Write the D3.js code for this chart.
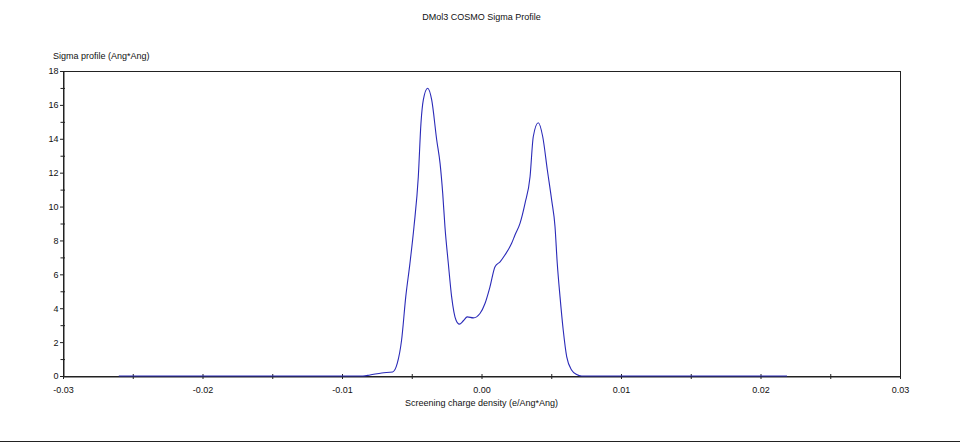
<!DOCTYPE html>
<meta charset="utf-8">
<head>
    <script src="https://d3js.org/d3.v7.min.js"></script>
    <title>DMol3 COSMO Sigma Profile</title>
</head>
<body>
    <div id="sigma_viz"></div>
</body>
<style>
    body {
        margin: 0;
        background: #fff;
    }
    text {
        font-family: "Liberation Sans", Arial, sans-serif;
        font-size: 9px;
        fill: #111;
    }
</style>
<script>
    // screening charge density (e/Ang*Ang)
    var sigma = [-0.0260, -0.0150, -0.0085, -0.00799, -0.00715, -0.00637, -0.00604, -0.00573, -0.00543,
        -0.00513, -0.00484, -0.00453, -0.00434, -0.00417, -0.00386, -0.00357, -0.00321, -0.00297,
        -0.00278, -0.00262, -0.00238, -0.00214, -0.00183, -0.00159, -0.00130, -0.00102, -0.00059,
        -0.00011, 0.00025, 0.00061, 0.00097, 0.00133, 0.00168, 0.00216, 0.00240, 0.00276, 0.00312,
        0.00348, 0.00371, 0.00407, 0.00439, 0.00472, 0.00503, 0.00527, 0.00543, 0.00563, 0.00586,
        0.00611, 0.00647, 0.00682, 0.00718, 0.0150, 0.0219];

    // sigma profile (Ang*Ang)
    var profile = [0, 0, 0, 0.06, 0.18, 0.24, 0.74, 2.11, 4.67,
        6.65, 8.81, 11.76, 14.91, 16.29, 16.98, 16.29, 13.93, 12.55,
        10.78, 8.81, 6.65, 4.67, 3.30, 3.06, 3.26, 3.49, 3.43,
        3.69, 4.28, 5.27, 6.45, 6.74, 7.14, 7.83, 8.32, 9.01, 10.19,
        11.76, 14.12, 14.95, 14.12, 12.16, 10.38, 8.81, 6.65, 4.67, 2.70,
        1.13, 0.34, 0.09, 0, 0, 0];

    var xTicks = [-0.03, -0.025, -0.02, -0.015, -0.01, -0.005, 0, 0.005, 0.01, 0.015, 0.02, 0.025, 0.03];
    var xLabels = ["-0.03", "", "-0.02", "", "-0.01", "", "0.00", "", "0.01", "", "0.02", "", "0.03"];
    var yTicks = d3.range(0, 19, 1);

    var chartTitle = "DMol3 COSMO Sigma Profile";
    var xTitle = "Screening charge density (e/Ang*Ang)";
    var yTitle = "Sigma profile (Ang*Ang)";

    var W = 960, H = 442;
    var margin = { top: 71, right: 60, bottom: 66, left: 63 },
        width = W - margin.left - margin.right,
        height = H - margin.top - margin.bottom;

    var root = d3.select("#sigma_viz")
        .append("svg")
        .attr("width", W)
        .attr("height", H);

    var svg = root.append("g")
        .attr("transform", "translate(" + margin.left + "," + margin.top + ")");

    var x = d3.scaleLinear().domain([-0.03, 0.03]).range([0, width]);
    var y = d3.scaleLinear().domain([0, 18]).range([height, 0]);

    // chart title
    root.append("text")
        .attr("x", margin.left + width / 2)
        .attr("y", 19.5)
        .attr("text-anchor", "middle")
        .text(chartTitle);

    // y axis title
    root.append("text")
        .attr("x", 53)
        .attr("y", 59)
        .text(yTitle);

    // frame (top and right)
    svg.append("rect")
        .attr("x", 0.5)
        .attr("y", 0.5)
        .attr("width", width)
        .attr("height", height)
        .attr("fill", "none")
        .attr("stroke", "#222");

    // X axis
    var xAxis = svg.append("g")
        .attr("transform", "translate(0," + (height + 0.5) + ")")
        .call(d3.axisBottom(x)
            .tickValues(xTicks)
            .tickSize(0)
            .tickPadding(10)
            .tickFormat(function (d, i) { return xLabels[i]; }));
    xAxis.select(".domain").attr("stroke", "#222");
    xAxis.selectAll(".tick line").attr("y1", -2.5).attr("y2", 2.5).attr("stroke", "#222");
    xAxis.selectAll(".tick text").attr("font-size", null).attr("font-family", null);

    // X axis title
    svg.append("text")
        .attr("x", width / 2)
        .attr("y", height + 30)
        .attr("text-anchor", "middle")
        .text(xTitle);

    // Y axis
    var yAxis = svg.append("g")
        .attr("transform", "translate(0.5,0)")
        .call(d3.axisLeft(y)
            .tickValues(yTicks)
            .tickSize(0)
            .tickPadding(5)
            .tickFormat(function (d) { return d % 2 === 0 ? d : ""; }));
    yAxis.select(".domain").attr("stroke", "#222");
    yAxis.selectAll(".tick line")
        .attr("x1", function (d) { return d % 2 === 0 ? -3.5 : -3; })
        .attr("x2", function (d) { return d % 2 === 0 ? 0 : 1.5; })
        .attr("stroke", "#222");
    yAxis.selectAll(".tick text").attr("font-size", null).attr("font-family", null);

    // the curve
    var line = d3.line()
        .x(function (d, i) { return x(sigma[i]); })
        .y(function (d) { return y(d); })
        .curve(d3.curveMonotoneX);

    svg.append("path")
        .datum(profile)
        .attr("fill", "none")
        .attr("stroke", "#2a2ab8")
        .attr("stroke-width", 1.1)
        .attr("d", line);

    // bottom rule of the window
    root.append("line")
        .attr("x1", 0)
        .attr("x2", W)
        .attr("y1", 441.5)
        .attr("y2", 441.5)
        .attr("stroke", "#222");
</script>
